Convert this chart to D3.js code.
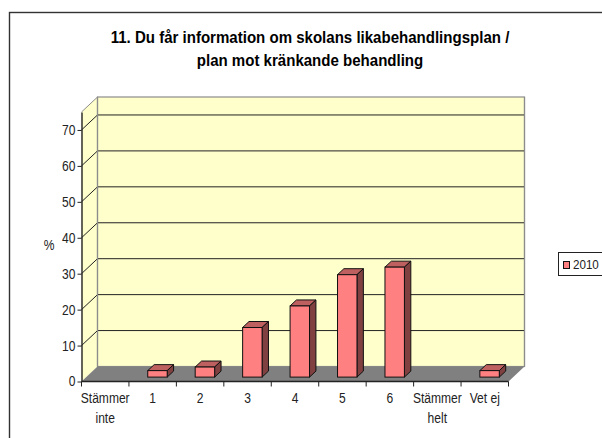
<!DOCTYPE html>
<html><head><meta charset="utf-8">
<script src="https://cdn.jsdelivr.net/npm/d3@7"></script>
<style>html,body{margin:0;padding:0;background:#fff;overflow:hidden}svg{display:block}text{font-family:"Liberation Sans",Arial,sans-serif}</style>
</head><body><div id="c"></div>
<script>
const categories=["Stämmer inte","1","2","3","4","5","6","Stämmer helt","Vet ej"];
const values=[0,1.8,2.8,13.8,19.8,28.5,30.6,0,1.8];
const yTicks=[0,10,20,30,40,50,60,70];
const seriesName="2010";
const titleLines=["11. Du får information om skolans likabehandlingsplan /","plan mot kränkande behandling"];
const W=602,H=438;
const svg=d3.select("#c").append("svg").attr("width",W).attr("height",H);
const x=d3.scaleBand().domain(categories).range([81.5,508.5]).paddingInner(0.59).paddingOuter(0.295);
const xOuter=d3.scaleBand().domain(categories).range([81.5,508.5]);
const y=d3.scaleLinear().domain([0,75]).range([381.5,112]);
const dx=16,dy=-15, bx=4.8,by=-4.4, bdx=6.4,bdy=-6;
const squeeze=(sel,k)=>sel.each(function(){const n=this.getComputedTextLength();d3.select(this).attr("textLength",n*k).attr("lengthAdjust","spacingAndGlyphs");});
svg.append("rect").attr("x",9.5).attr("y",12.5).attr("width",720).attr("height",520).attr("fill","#fff").attr("stroke","#333").attr("stroke-width",1.4);
const pts=a=>a.map(p=>p.join(",")).join(" ");
const x0=81.5,x1=508.5,y0=y(0),yT=y(75);
// walls
svg.append("polygon").attr("points",pts([[x0,y0],[x0+dx,y0+dy],[x0+dx,yT+dy],[x0,yT]])).attr("fill","#ffffcc").attr("stroke","none");
svg.append("rect").attr("x",x0+dx).attr("y",yT+dy).attr("width",x1-x0).attr("height",y0-yT).attr("fill","#ffffcc").attr("stroke","#8c8c8c").attr("stroke-width",1.2);
svg.append("polygon").attr("points",pts([[x0,y0],[x1,y0],[x1+dx,y0+dy],[x0+dx,y0+dy]])).attr("fill","#808080");
svg.append("line").attr("x1",x0).attr("y1",yT).attr("x2",x0+dx).attr("y2",yT+dy).attr("stroke","#8c8c8c");
// gridlines
yTicks.filter(d=>d>0).forEach(d=>{
 svg.append("polyline").attr("points",pts([[x0,y(d)],[x0+dx,y(d)+dy],[x1+dx,y(d)+dy]])).attr("fill","none").attr("stroke","#222").attr("stroke-width",1);
});
svg.append("line").attr("x1",x1+dx).attr("x2",x1+dx).attr("y1",yT+dy).attr("y2",y0+dy).attr("stroke","#8c8c8c").attr("stroke-width",1.2);
svg.append("line").attr("x1",x0+dx).attr("x2",x0+dx).attr("y1",yT+dy).attr("y2",y0+dy).attr("stroke","#8c8c8c").attr("stroke-width",1.2);
// axes
const gy=svg.append("g").attr("transform",`translate(${x0},0)`).call(d3.axisLeft(y).tickValues(yTicks).tickSize(4).tickPadding(2).tickSizeOuter(0));
gy.select(".domain").attr("stroke","#222").attr("stroke-width",1.4);
gy.selectAll("text").attr("font-size",14).attr("fill","#222").call(squeeze,0.86);
gy.selectAll("line").attr("stroke","#222");
const gx=svg.append("g").attr("transform",`translate(0,${y0})`);
gx.append("line").attr("x1",x0).attr("x2",x1).attr("stroke","#222").attr("stroke-width",1.4);
const tickPos=[...categories.map(c=>xOuter(c)),x1];
gx.selectAll("line.t").data(tickPos).join("line").attr("class","t").attr("x1",d=>d).attr("x2",d=>d).attr("y1",0).attr("y2",5).attr("stroke","#222");
categories.forEach(c=>{
 c.split(/(?<=Stämmer) /).forEach((w,i)=>{
  gx.append("text").attr("text-anchor","middle").attr("font-size",14).attr("fill","#222")
    .attr("x",xOuter(c)+xOuter.bandwidth()/2).attr("y",21.5+i*20).text(w).call(squeeze,0.86);
 });
});
svg.append("text").attr("x",49).attr("y",250).attr("text-anchor","middle").attr("font-size",14).attr("fill","#222").text("%").call(squeeze,0.86);
// bars
const bars=svg.append("g").selectAll("g").data(categories.map((c,i)=>({c,v:values[i]})).filter(d=>d.v>0)).join("g");
bars.each(function(d){
 const g=d3.select(this),l=x(d.c)+bx,r=l+x.bandwidth(),b=y0+by,t=y(d.v)+by;
 g.append("polygon").attr("points",pts([[l,t],[r,t],[r+bdx,t+bdy],[l+bdx,t+bdy]])).attr("fill","#bf6060").attr("stroke","#111");
 g.append("polygon").attr("points",pts([[r,t],[r+bdx,t+bdy],[r+bdx,b+bdy],[r,b]])).attr("fill","#804040").attr("stroke","#111");
 g.append("rect").attr("x",l).attr("y",t).attr("width",r-l).attr("height",b-t).attr("fill","#ff8080").attr("stroke","#111");
});
// title
titleLines.forEach((s,i)=>svg.append("text").attr("x",310).attr("y",43+i*23).attr("text-anchor","middle").attr("font-size",16).attr("font-weight","bold").attr("fill","#000").text(s).call(squeeze,0.94));
// legend
svg.append("rect").attr("x",558.5).attr("y",252.5).attr("width",50).attr("height",23).attr("fill","#fff").attr("stroke","#222");
svg.append("rect").attr("x",563.5).attr("y",261.5).attr("width",6).attr("height",7).attr("fill","#ff8080").attr("stroke","#111");
svg.append("text").attr("x",573).attr("y",269).attr("font-size",13.5).attr("fill","#222").text(seriesName).call(squeeze,0.86);
</script></body></html>
